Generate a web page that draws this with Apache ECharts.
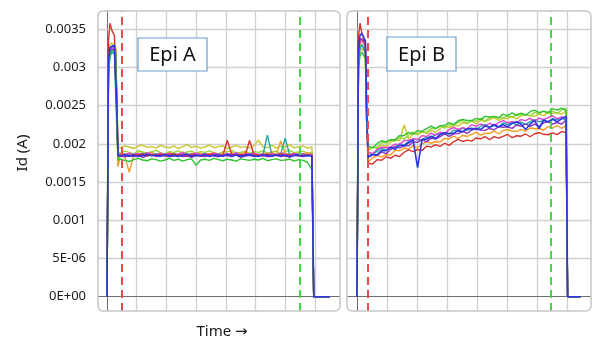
<!DOCTYPE html>
<html>
<head>
<meta charset="utf-8">
<script src="https://cdn.jsdelivr.net/npm/echarts@6/dist/echarts.min.js"></script>
<style>
  html, body { margin: 0; padding: 0; background: #fff; }
  #chart { width: 592px; height: 337px; }
</style>
</head>
<body>
<div id="chart"></div>
<script>
// current in µA, time in grid divisions (one division per vertical grid line)
const yTickValues = [0, 500, 1000, 1500, 2000, 2500, 3000, 3500];
const yTickLabels = ['0E+00', '5E-06', '0.001', '0.0015', '0.002', '0.0025', '0.003', '0.0035'];
const xGridValues = [0, 1, 2, 3, 4, 5, 6, 7];
const panelNames = ['Epi A', 'Epi B'];
const startMarkers = [0.505, 0.367];
const endMarkers = [6.5, 6.47];

const timeA = [0, 0.05, 0.1, 0.17, 0.25, 0.3, 0.33, 0.37,
  0.45, 0.6, 0.75, 0.9, 1.05, 1.2, 1.35, 1.5, 1.65, 1.8, 1.95, 2.1, 2.25, 2.4, 2.55,
  2.7, 2.85, 3, 3.15, 3.3, 3.45, 3.6, 3.75, 3.9, 4.05, 4.2, 4.35, 4.5, 4.65, 4.8,
  4.95, 5.1, 5.25, 5.4, 5.55, 5.7, 5.85, 6, 6.15, 6.3, 6.45, 6.6, 6.75, 6.9,
  6.96, 7.5];

const epiA1 = [0, 3050, 3300, 3320, 3280, 3250, 2500, 1950,
  1950, 1975, 1960, 1940, 1970, 1985, 1955, 1965, 1945, 1980,
  1960, 1950, 1975, 1940, 1965, 1990, 1955, 1970, 1945, 1960,
  1985, 1950, 1965, 1975, 1940, 1960, 1980, 1955, 1965, 1945,
  1975, 2050, 1960, 1950, 1985, 1945, 1970, 1960, 1990, 1950,
  1965, 1975, 1945, 1960, 0, 0];
const epiA2 = [0, 3000, 3150, 3200, 3180, 3150, 2400, 1890,
  1880, 1905, 1890, 1870, 1910, 1895, 1880, 1900, 1915, 1885,
  1870, 1900, 1890, 1910, 1880, 1895, 1905, 1875, 1900, 1890,
  1910, 1885, 1870, 1900, 1895, 1915, 1880, 1890, 1905, 1875,
  1900, 1890, 1910, 1880, 1895, 1905, 1870, 1900, 1915, 1885,
  1895, 1905, 1880, 1890, 0, 0];
const epiA3 = [0, 3100, 3250, 3280, 3260, 3220, 2300, 1700,
  1860, 1840, 1630, 1850, 1880, 1870, 1855, 1890, 1865, 1875,
  1850, 1885, 1870, 1860, 1895, 1855, 1875, 1865, 1880, 1850,
  1870, 1890, 1860, 1875, 1855, 1885, 1870, 1860, 1895, 1865,
  1875, 1850, 1880, 1870, 1890, 1860, 2040, 1875, 1865, 1880,
  1855, 1870, 1885, 1860, 0, 0];
const epiA4 = [0, 2900, 3150, 3200, 3170, 3150, 2200, 1850,
  1850, 1870, 1845, 1865, 1855, 1875, 1840, 1860, 1870, 1850,
  1865, 1845, 1875, 1855, 1860, 1870, 1840, 1865, 1855, 1875,
  1850, 1860, 1870, 1845, 1865, 1855, 1875, 1850, 1860, 1870,
  1845, 1865, 1855, 2115, 1860, 1850, 1870, 2075, 1855, 1865,
  1850, 1870, 1845, 1860, 0, 0];
const epiA5 = [0, 3050, 3220, 3260, 3250, 3200, 2600, 1870,
  1870, 1855, 1880, 1860, 1875, 1850, 1885, 1865, 1855, 1880,
  1860, 1875, 1850, 1870, 1885, 1855, 1865, 1880, 1860, 1870,
  1855, 1880, 1865, 1850, 1875, 1860, 1885, 1855, 1870, 1865,
  1880, 1855, 1870, 1860, 1875, 1850, 1880, 1865, 1855, 1875,
  1860, 1870, 1855, 1865, 0, 0];
const epiA6 = [0, 3000, 3200, 3240, 3230, 3210, 2400, 1830,
  1840, 1830, 1855, 1835, 1850, 1825, 1845, 1860, 1835, 1840,
  1850, 1830, 1845, 1855, 1835, 1840, 1825, 1850, 1845, 1835,
  1855, 1840, 1830, 1850, 1845, 1835, 1855, 1825, 1840, 1850,
  1835, 1845, 1855, 1830, 1840, 1850, 1835, 1845, 1825, 1850,
  1840, 1835, 1850, 1845, 0, 0];
const epiA7 = [0, 3350, 3580, 3480, 3420, 3400, 2650, 1860,
  1850, 1865, 1840, 1860, 1855, 1870, 1845, 1860, 1850, 1865,
  1840, 1855, 1870, 1850, 1860, 1845, 1865, 1855, 1840, 1860,
  1870, 1850, 1855, 1845, 2050, 1860, 1850, 1865, 1845, 2045,
  1855, 1860, 1840, 1865, 1850, 1855, 1870, 1845, 1860, 1850,
  1865, 1845, 1855, 1850, 0, 0];
const epiA8 = [0, 2950, 3180, 3220, 3210, 3180, 2300, 1790,
  1800, 1785, 1770, 1795, 1810, 1790, 1780, 1805, 1795, 1775,
  1790, 1810, 1785, 1800, 1775, 1795, 1805, 1720, 1790, 1800,
  1785, 1810, 1795, 1780, 1800, 1790, 1775, 1805, 1795, 1785,
  1800, 1790, 1810, 1780, 1795, 1805, 1785, 1790, 1800, 1775,
  1795, 1785, 1760, 1660, 0, 0];
const epiA9 = [0, 3100, 3260, 3280, 3290, 3270, 2500, 1850,
  1845, 1860, 1840, 1855, 1835, 1850, 1865, 1845, 1855, 1840,
  1860, 1845, 1850, 1835, 1855, 1865, 1840, 1850, 1845, 1860,
  1835, 1855, 1850, 1840, 1865, 1845, 1855, 1840, 1850, 1860,
  1845, 1835, 1855, 1850, 1840, 1860, 1845, 1855, 1835, 1850,
  1860, 1845, 1850, 1840, 0, 0];

const timeB = [0, 0.05, 0.1, 0.16, 0.22, 0.28, 0.32,
  0.37, 0.52, 0.67, 0.82, 0.97, 1.12, 1.27, 1.42, 1.57, 1.72, 1.87, 2.02, 2.17,
  2.32, 2.47, 2.62, 2.77, 2.92, 3.07, 3.22, 3.37, 3.52, 3.67, 3.82, 3.97, 4.12,
  4.27, 4.42, 4.57, 4.72, 4.87, 5.02, 5.17, 5.32, 5.47, 5.62, 5.77, 5.92, 6.07,
  6.22, 6.37, 6.52, 6.67, 6.82, 6.97,
  7.02, 7.45];

const epiB1 = [0, 3050, 3200, 3250, 3220, 3150, 2400,
  1910, 1959, 1938, 1982, 1967, 2026, 2060, 2039, 2250, 2067,
  2132, 2121, 2155, 2134, 2178, 2152, 2202, 2236, 2215, 2239,
  2233, 2277, 2267, 2301, 2265, 2309, 2291, 2318, 2345, 2308,
  2335, 2331, 2362, 2328, 2369, 2386, 2367, 2363, 2389, 2370,
  2411, 2403, 2408, 2389, 2435, 0, 0];
const epiB2 = [0, 3100, 3250, 3300, 3260, 3180, 2350,
  1925, 1959, 1953, 2017, 2012, 2051, 2035, 2084, 2063, 2117,
  2157, 2136, 2160, 2154, 2203, 2197, 2237, 2206, 2255, 2244,
  2278, 2307, 2272, 2301, 2300, 2334, 2301, 2343, 2360, 2343,
  2340, 2366, 2347, 2388, 2379, 2386, 2367, 2413, 2394, 2430,
  2396, 2428, 2398, 2444, 2465, 0, 0];
const epiB3 = [0, 3150, 3300, 3350, 3320, 3250, 2300,
  1760, 1818, 1851, 1828, 1861, 1854, 1917, 1910, 1947, 1930,
  1978, 1951, 1999, 2031, 2009, 2032, 2025, 2073, 2065, 2103,
  2071, 2114, 2097, 2124, 2152, 2115, 2141, 2137, 2167, 2133,
  2174, 2189, 2169, 2163, 2188, 2168, 2208, 2198, 2202, 2182,
  2227, 2207, 2241, 2205, 2235, 0, 0];
const epiB4 = [0, 3100, 3250, 3300, 3280, 3200, 2300,
  1870, 1863, 1902, 1940, 1914, 1952, 1961, 2004, 1983, 2036,
  2065, 2053, 2057, 2090, 2079, 2127, 2126, 2139, 2128, 2181,
  2170, 2208, 2177, 2210, 2184, 2232, 2253, 2220, 2241, 2223,
  2274, 2255, 2280, 2251, 2286, 2252, 2292, 2318, 2288, 2304,
  2289, 2330, 2314, 2345, 2305, 0, 0];
const epiB5 = [0, 3200, 3350, 3380, 3330, 3280, 2450,
  1895, 1874, 1927, 1956, 1950, 1959, 1997, 1991, 2045, 2048,
  2067, 2056, 2109, 2098, 2142, 2116, 2154, 2133, 2187, 2215,
  2189, 2213, 2196, 2250, 2234, 2263, 2234, 2271, 2238, 2279,
  2306, 2277, 2292, 2278, 2319, 2305, 2335, 2296, 2337, 2317,
  2343, 2369, 2328, 2354, 2350, 0, 0];
const epiB6 = [0, 3200, 3380, 3400, 3350, 3300, 2400,
  1825, 1863, 1847, 1895, 1873, 1926, 1965, 1948, 1976, 1974,
  2028, 2021, 2059, 2027, 2076, 2064, 2097, 2130, 2099, 2132,
  2135, 2168, 2137, 2180, 2198, 2181, 2178, 2204, 2185, 2226,
  2218, 2223, 2203, 2248, 2229, 2264, 2229, 2259, 2230, 2275,
  2295, 2260, 2280, 2260, 2310, 0, 0];
const epiB7 = [0, 3400, 3580, 3450, 3380, 3300, 2500,
  1745, 1737, 1794, 1786, 1833, 1810, 1852, 1834, 1891, 1923,
  1900, 1927, 1914, 1971, 1958, 1990, 1967, 2009, 1981, 2028,
  2060, 2032, 2049, 2036, 2078, 2065, 2095, 2055, 2095, 2075,
  2100, 2124, 2083, 2107, 2101, 2130, 2094, 2133, 2147, 2126,
  2120, 2144, 2122, 2161, 2150, 0, 0];
const epiB8 = [0, 3000, 3150, 3200, 3180, 3120, 2300,
  1970, 1949, 2003, 2042, 2027, 2056, 2055, 2109, 2108, 2152,
  2127, 2176, 2165, 2199, 2233, 2202, 2237, 2241, 2280, 2254,
  2303, 2322, 2307, 2306, 2335, 2319, 2361, 2353, 2360, 2343,
  2390, 2371, 2407, 2373, 2404, 2376, 2422, 2443, 2409, 2430,
  2411, 2463, 2443, 2469, 2440, 0, 0];
const epiB9 = [0, 3250, 3420, 3450, 3400, 3350, 2500,
  1830, 1859, 1858, 1912, 1911, 1955, 1929, 1983, 1976, 2015,
  2054, 1690, 2057, 2061, 2100, 2074, 2123, 2147, 2136, 2140,
  2174, 2158, 2201, 2195, 2204, 2188, 2235, 2217, 2254, 2221,
  2253, 2224, 2270, 2291, 2257, 2190, 2258, 2309, 2200, 2316,
  2287, 2323, 2288, 2329, 2355, 0, 0];

const runsA = [epiA1, epiA2, epiA3, epiA4, epiA5, epiA6, epiA7, epiA8, epiA9];
const runsB = [epiB1, epiB2, epiB3, epiB4, epiB5, epiB6, epiB7, epiB8, epiB9];
const runColors = ['#c9c62c', '#96d63a', '#f29c22', '#1fa5a8', '#e044cf', '#8b2fbf', '#d8302a', '#2fc12f', '#2c36e2'];

const panels = [
  { time: timeA, runs: runsA, grid: { left: 98, top: 11, width: 242, height: 300 }, xMin: -0.303, xMax: 7.845, box: [138, 38, 69, 33] },
  { time: timeB, runs: runsB, grid: { left: 347, top: 11, width: 244, height: 300 }, xMin: -0.333, xMax: 7.8, box: [387, 37, 69, 34] }
];

const font = '"Noto Sans", "DejaVu Sans", sans-serif';

const chart = echarts.init(document.getElementById('chart'));

const series = [];
panels.forEach((p, pi) => {
  p.runs.forEach((vals, ri) => {
    const s = {
      type: 'line',
      xAxisIndex: pi,
      yAxisIndex: pi,
      data: p.time.map((t, i) => [t, vals[i]]),
      showSymbol: false,
      symbol: 'none',
      z: 2,
      lineStyle: { width: ri === 8 ? 1.6 : 1.4, color: runColors[ri] }
    };
    if (ri === 0) {
      s.markLine = {
        silent: true, z: 1, animation: false,
        symbol: ['none', 'none'],
        label: { show: false },
        lineStyle: { type: 'solid', width: 1.3, color: '#d0d0d0' },
        data: [
          ...xGridValues.map(v => ({ xAxis: v, lineStyle: v === 0 ? { color: '#6e6e6e', width: 1 } : {} })),
          ...yTickValues.map(v => ({ yAxis: v, lineStyle: v === 0 ? { color: '#6e6e6e', width: 1 } : {} }))
        ]
      };
    }
    if (ri === 8) {
      s.markLine = {
        silent: true, z: 5, animation: false,
        symbol: ['none', 'none'],
        label: { show: false },
        lineStyle: { type: [8, 5], width: 2 },
        data: [
          { xAxis: startMarkers[pi], lineStyle: { color: '#f04848' } },
          { xAxis: endMarkers[pi], lineStyle: { color: '#45d845' } }
        ]
      };
    }
    series.push(s);
  });
});

const graphic = [];
panels.forEach((p, pi) => {
  const g = p.grid;
  graphic.push({
    type: 'rect', z: 50, silent: true,
    shape: { x: g.left, y: g.top, width: g.width, height: g.height, r: 5 },
    style: { fill: 'none', stroke: '#c6c6c6', lineWidth: 1.5 }
  });
  const b = p.box;
  graphic.push({
    type: 'rect', z: 60, silent: true,
    shape: { x: b[0], y: b[1], width: b[2], height: b[3] },
    style: { fill: '#fff', stroke: '#6b9dcf', lineWidth: 1.2 }
  });
  graphic.push({
    type: 'text', z: 61, silent: true,
    x: b[0] + b[2] / 2, y: b[1] + b[3] / 2 + 1,
    style: { text: panelNames[pi], font: '20px ' + font, fill: '#111', align: 'center', verticalAlign: 'middle' }
  });
});
graphic.push({
  type: 'text', silent: true, x: 23, y: 153, rotation: Math.PI / 2,
  style: { text: 'Id (A)', font: '15px ' + font, fill: '#1a1a1a', align: 'center', verticalAlign: 'middle' }
});
graphic.push({
  type: 'text', silent: true, x: 222, y: 332,
  style: { text: 'Time \u2192', font: '15px ' + font, fill: '#1a1a1a', align: 'center', verticalAlign: 'middle' }
});

chart.setOption({
  animation: false,
  backgroundColor: '#fff',
  grid: panels.map(p => p.grid),
  xAxis: panels.map((p, pi) => ({
    type: 'value', gridIndex: pi, min: p.xMin, max: p.xMax, show: false
  })),
  yAxis: panels.map((p, pi) => ({
    type: 'value', gridIndex: pi, min: -187, max: 3740,
    show: pi === 0,
    offset: 2,
    axisLine: { show: false },
    splitLine: { show: false },
    axisTick: { show: true, customValues: yTickValues, length: 7, lineStyle: { color: '#333' } },
    axisLabel: {
      customValues: yTickValues, margin: 10, fontSize: 13, color: '#1a1a1a', fontFamily: font,
      formatter: v => yTickLabels[yTickValues.indexOf(v)]
    }
  })),
  series: series,
  graphic: graphic
});
</script>
</body>
</html>
